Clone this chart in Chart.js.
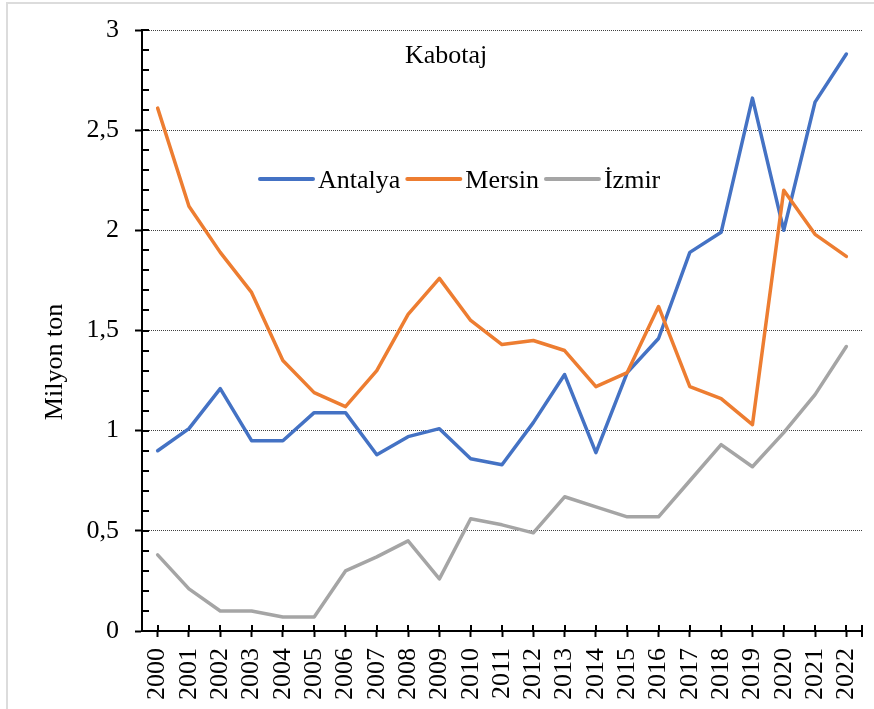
<!DOCTYPE html>
<html><head><meta charset="utf-8">
<script src="https://cdn.jsdelivr.net/npm/chart.js@4"></script>
<style>
html,body{margin:0;padding:0;background:#fff;overflow:hidden}
#wrap{position:relative;width:874px;height:709px;overflow:hidden}
#frame{position:absolute;left:6px;top:2px;width:900px;height:800px;border:2px solid #dcdcdc;box-sizing:border-box}
canvas{position:absolute;left:0;top:0}
</style></head><body>
<div id="wrap"><div id="frame"></div><canvas id="c" width="874" height="709"></canvas></div>
<script>
const years = ['2000','2001','2002','2003','2004','2005','2006','2007','2008','2009','2010','2011','2012','2013','2014','2015','2016','2017','2018','2019','2020','2021','2022'];
const antalya = [0.90,1.01,1.21,0.95,0.95,1.09,1.09,0.88,0.97,1.01,0.86,0.83,1.04,1.28,0.89,1.29,1.46,1.89,1.99,2.66,2.00,2.64,2.88];
const mersin  = [2.61,2.12,1.89,1.69,1.35,1.19,1.12,1.30,1.58,1.76,1.55,1.43,1.45,1.40,1.22,1.29,1.62,1.22,1.16,1.03,2.20,1.98,1.87];
const izmir   = [0.38,0.21,0.10,0.10,0.07,0.07,0.30,0.37,0.45,0.26,0.56,0.53,0.49,0.67,0.62,0.57,0.57,0.75,0.93,0.82,0.99,1.18,1.42];
const seriesNames = ['Antalya','Mersin','İzmir'];
const seriesColors = ['#4472C4','#ED7D31','#A5A5A5'];
const chartTitle = 'Kabotaj';
const yTitle = 'Milyon ton';
const yMin = 0, yMax = 3, yStep = 0.5, yMinorStep = 0.1;

const FONT = 'Liberation Serif';

const extras = {
  id: 'extras',
  afterDraw(chart) {
    const ctx = chart.ctx;
    const a = chart.chartArea;
    const xs = chart.scales.x, ys = chart.scales.y;
    ctx.save();
    ctx.strokeStyle = '#000';
    ctx.lineWidth = 2;
    const n = Math.round((yMax - yMin) / yMinorStep);
    for (let i = 0; i <= n; i++) {
      const v = yMin + i * yMinorStep;
      const y = Math.round(ys.getPixelForValue(v));
      ctx.beginPath();
      ctx.moveTo(a.left, y);
      ctx.lineTo(a.left + 7, y);
      ctx.stroke();
    }
    for (let i = 0; i < years.length; i++) {
      const x = Math.round(xs.getPixelForTick(i));
      ctx.beginPath();
      ctx.moveTo(x, a.bottom - 6);
      ctx.lineTo(x, a.bottom);
      ctx.stroke();
    }
    ctx.beginPath();
    ctx.moveTo(Math.round(a.right), a.bottom - 6);
    ctx.lineTo(Math.round(a.right), a.bottom + 6);
    ctx.stroke();

    ctx.fillStyle = '#000';
    ctx.font = '26px "' + FONT + '"';
    ctx.textAlign = 'left';
    ctx.textBaseline = 'alphabetic';
    ctx.fillText(chartTitle, 405, 63);

    let x = 260;
    const ly = 179;
    chart.data.datasets.forEach((ds) => {
      ctx.strokeStyle = ds.borderColor;
      ctx.lineWidth = 4;
      ctx.lineCap = 'round';
      ctx.beginPath();
      ctx.moveTo(x, ly);
      ctx.lineTo(x + 53, ly);
      ctx.stroke();
      x += 58;
      ctx.fillStyle = '#000';
      ctx.fillText(ds.label, x, 188);
      x += ctx.measureText(ds.label).width + 7;
    });

    ctx.save();
    ctx.translate(62, 362);
    ctx.rotate(-Math.PI / 2);
    ctx.textAlign = 'center';
    ctx.font = '26px "' + FONT + '"';
    ctx.fillText(yTitle, 0, 0);
    ctx.restore();
    ctx.restore();
  }
};

new Chart(document.getElementById('c'), {
  type: 'line',
  data: {
    labels: years,
    datasets: [
      {label: seriesNames[0], data: antalya, borderColor: seriesColors[0], order: 2},
      {label: seriesNames[1], data: mersin, borderColor: seriesColors[1], order: 1},
      {label: seriesNames[2], data: izmir, borderColor: seriesColors[2], order: 0}
    ].map(d => Object.assign(d, {borderWidth: 3.5, pointRadius: 0, tension: 0, fill: false, borderJoinStyle: 'round', borderCapStyle: 'round'}))
  },
  options: {
    responsive: false,
    animation: false,
    devicePixelRatio: 1,
    layout: {padding: {left: 0, right: 12, top: 30, bottom: 0}},
    plugins: {legend: {display: false}, title: {display: false}, tooltip: {enabled: false}},
    scales: {
      x: {
        type: 'category',
        offset: true,
        grid: {drawOnChartArea: false, drawTicks: true, tickLength: 6, tickColor: '#000', tickWidth: 2, offset: false},
        border: {color: '#000', width: 2},
        ticks: {minRotation: 90, maxRotation: 90, autoSkip: false, padding: 11, color: '#000', font: {family: FONT, size: 26}},
        afterFit(s) { s.height = 78; s.paddingLeft = 0; s.paddingRight = 0; }
      },
      y: {
        min: yMin, max: yMax,
        grid: {color: '#404040', lineWidth: 1, tickLength: 7, tickColor: '#000', tickWidth: 2, drawTicks: true},
        border: {color: '#000', width: 2, dash: [1, 1]},
        ticks: {stepSize: yStep, padding: 16, color: '#000', font: {family: FONT, size: 26},
          callback: v => String(v).replace('.', ',')},
        afterFit(s) { s.width = 142; s.paddingTop = 0; s.paddingBottom = 0; }
      }
    }
  },
  plugins: [extras]
});
</script>
</body></html>
